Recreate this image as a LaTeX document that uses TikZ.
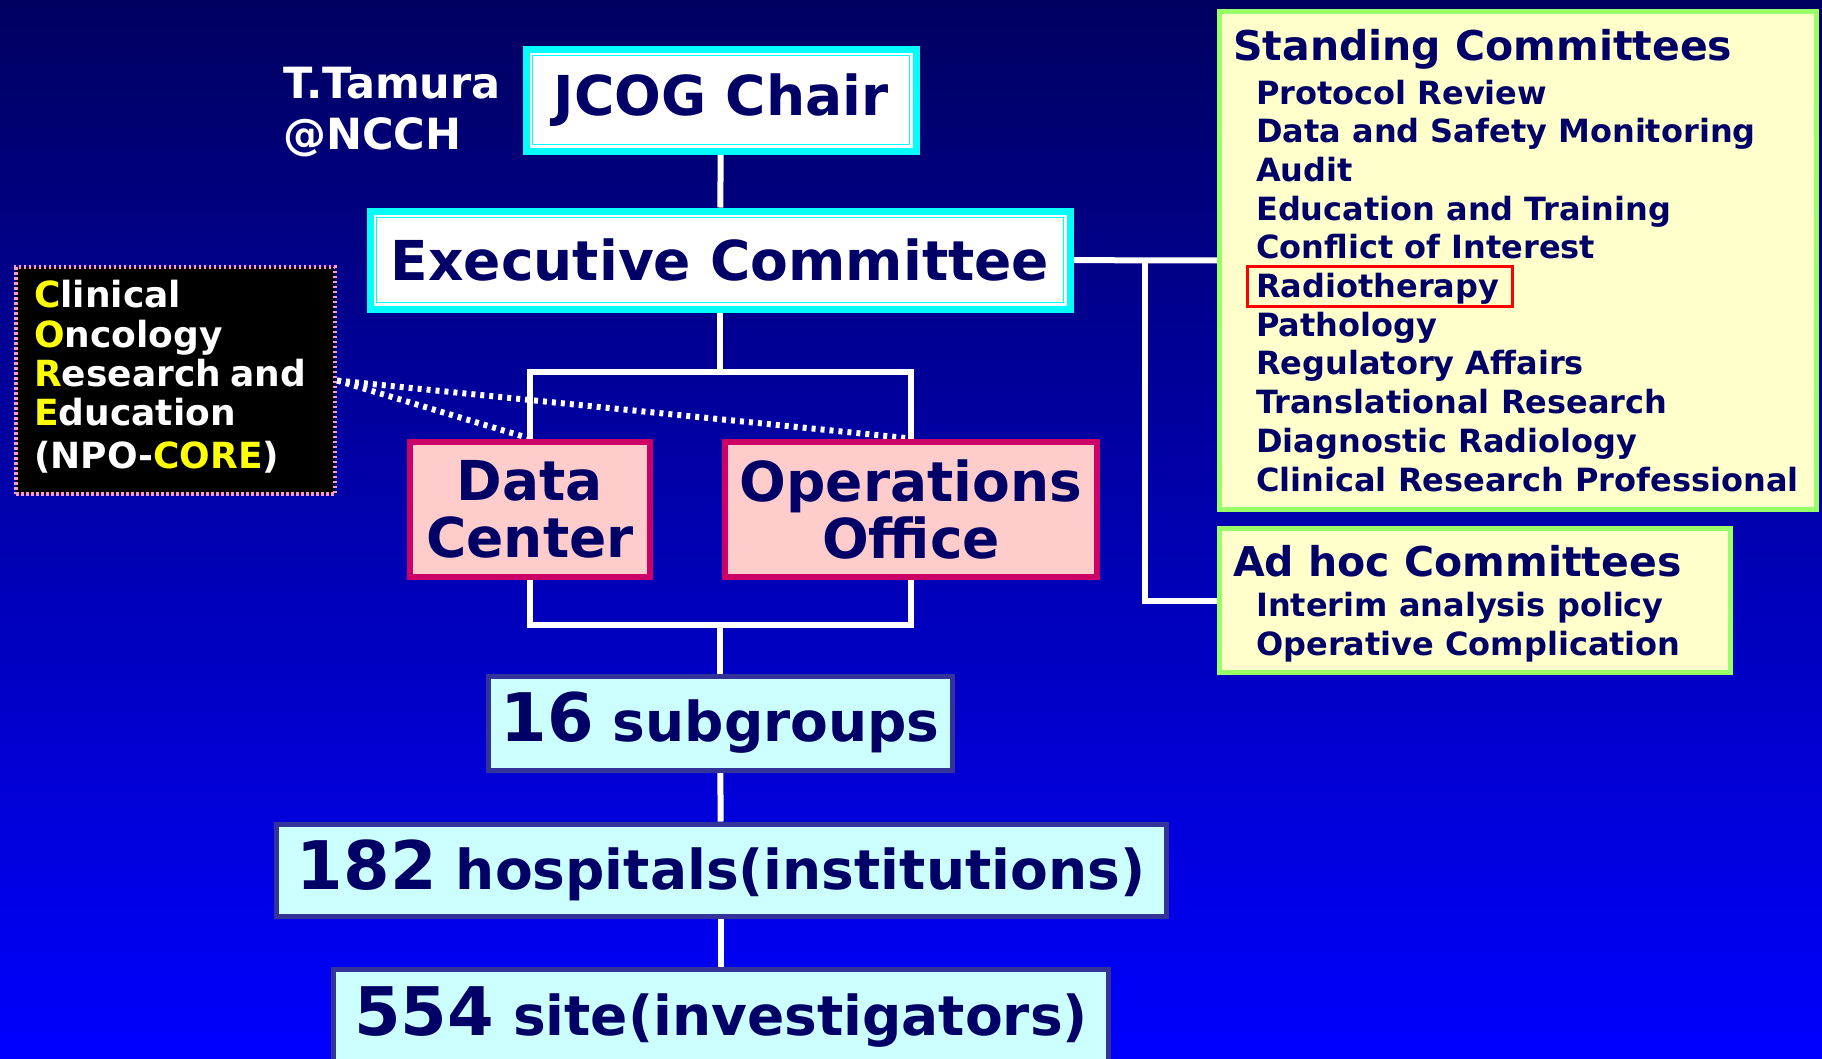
\documentclass[tikz,border=0pt]{standalone}
\usepackage{fontspec}
\setmainfont{DejaVu Sans}

\definecolor{navytext}{HTML}{000066}
\definecolor{bgtop}{HTML}{000060}
\definecolor{bgmid}{HTML}{0000C8}
\definecolor{bgbot}{HTML}{0000FF}
\definecolor{chaircyan}{HTML}{00FFFF}
\definecolor{pinkfill}{HTML}{FFCCCC}
\definecolor{pinkline}{HTML}{CC0066}
\definecolor{lightcyan}{HTML}{CCFFFF}
\definecolor{slateline}{HTML}{333399}
\definecolor{creamfill}{HTML}{FFFFCC}
\definecolor{greenline}{HTML}{99FF66}
\definecolor{dotpink}{HTML}{FF99CC}
\definecolor{coreyellow}{HTML}{FFFF00}

\newcommand\fsz[1]{\fontsize{#1}{#1}\selectfont}
\newcommand\hl[1]{\textcolor{coreyellow}{#1}}

\pgfdeclarelayer{bg}
\pgfdeclarelayer{edges}
\pgfsetlayers{bg,edges,main}

\tikzset{
  chairbox/.style={draw=chaircyan, line width=7pt, fill=white, inner sep=0pt,
    text=navytext, font=\bfseries\fsz{55},
    path picture={\draw[chaircyan, line width=1.5pt]
      ([shift={(6.5pt,-6.5pt)}]path picture bounding box.north west) rectangle
      ([shift={(-6.5pt,6.5pt)}]path picture bounding box.south east);}},
  pinkbox/.style={draw=pinkline, line width=6pt, fill=pinkfill, inner sep=0pt,
    text=navytext, align=center, font=\bfseries\fontsize{55}{57}\selectfont},
  countbox/.style={draw=slateline, line width=5pt, fill=lightcyan, inner sep=0pt,
    text=navytext, font=\bfseries},
  combox/.style={draw=greenline, line width=5pt, fill=creamfill, inner sep=0pt},
  comtitle/.style={anchor=base west, inner sep=0pt, text=navytext, font=\bfseries\fsz{41}},
  comitem/.style={anchor=base west, inner sep=0pt, text=navytext, font=\bfseries\fsz{32}},
  corebox/.style={draw=dotpink, line width=4pt, dash pattern=on 2.5pt off 2.5pt, fill=black, inner sep=0pt},
  coretext/.style={anchor=base west, inner sep=0pt, text=white, font=\bfseries\fsz{36}},
  link/.style={draw=white, line width=6pt},
  dotlink/.style={draw=white, line width=6pt, dash pattern=on 4pt off 5pt},
}

\begin{document}
\begin{tikzpicture}[x=1pt, y=-1pt]
  \useasboundingbox (0,0) rectangle (1822,1058);
  \begin{pgfonlayer}{bg}
    \shade[top color=bgtop, middle color=bgmid, bottom color=bgbot] (0,0) rectangle (1822,1058);
  \end{pgfonlayer}

  % top of the tree
  \node[anchor=base west, inner sep=0pt, text=white, font=\bfseries\fsz{43}] (tamura) at (283,98) {T.Tamura};
  \node[anchor=base west, inner sep=0pt, text=white, font=\bfseries\fsz{43}] (ncch) at (283,149) {@NCCH};
  \node[chairbox, minimum width=390pt, minimum height=102pt] (chair) at (721,100) {JCOG Chair};
  \node[chairbox, minimum width=700pt, minimum height=98pt] (exec) at (720,260) {Executive Committee};

  % offices
  \node[pinkbox, minimum width=240pt, minimum height=135pt] (dc) at (530,509) {Data\\Center};
  \node[pinkbox, minimum width=372pt, minimum height=135pt] (ops) at (911,509) {Operations\\Office};

  % NPO-CORE
  \node[corebox, minimum width=319pt, minimum height=227pt] (npo) at (175.5,380.5) {};
  \node[coretext] (core1) at (34,307) {\hl{C}linical};
  \node[coretext] (core2) at (34,347) {\hl{O}ncology};
  \node[coretext] (core3) at (34,386) {\makebox[272pt][s]{\hl{R}esearch and}};
  \node[coretext] (core4) at (34,425) {\hl{E}ducation};
  \node[coretext] (core5) at (34,468) {(NPO-\hl{CORE})};

  % groups
  \node[countbox, minimum width=464pt, minimum height=94pt] (sub) at (720,723) {{\fsz{67}16}{\fsz{55} subgroups}};
  \node[countbox, minimum width=890pt, minimum height=92pt] (hosp) at (721,870) {{\fsz{67}182}{\fsz{55} hospitals(institutions)}};
  \node[countbox, minimum width=775pt, minimum height=95pt] (site) at (721,1017) {{\fsz{67}554}{\fsz{55} site(investigators)}};

  % committees
  \node[combox, minimum width=597pt, minimum height=498pt] (std) at (1518,260.5) {};
  \node[comtitle] (stdtitle) at (1233,60) {Standing Committees};
  \foreach \t [count=\i] in {Protocol Review, Data and Safety Monitoring, Audit,
      Education and Training, Conflict of Interest, Radiotherapy, Pathology,
      Regulatory Affairs, Translational Research, Diagnostic Radiology,
      Clinical Research Professional}
    \node[comitem] (std\i) at (1256,{65.3+38.7*\i}) {\t};
  \draw[red, line width=3pt] ([shift={(-9pt,-9pt)}]std6.base west) rectangle ([shift={(13pt,31pt)}]std6.base east);

  \node[combox, minimum width=511pt, minimum height=144pt] (adhoc) at (1475,600.5) {};
  \node[comtitle] (adtitle) at (1233,576) {Ad hoc Committees};
  \node[comitem] (ad1) at (1256,616) {Interim analysis policy};
  \node[comitem] (ad2) at (1256,655) {Operative Complication};

  \coordinate (ctop) at (720,372);
  \coordinate (cbot) at (720,625);
  \coordinate (cright) at (1145,260);

  \begin{pgfonlayer}{edges}
    \draw[link] (chair) -- (exec);
    \draw[link] (exec) -- (ctop);
    \draw[link] (dc.north) |- (ctop) -| (ops.north);
    \draw[link] (dc.south) |- (cbot) -| (ops.south);
    \draw[link] (cbot) -- (sub);
    \draw[link] (sub) -- (hosp);
    \draw[link] (hosp) -- (site);
    \draw[link] (exec) -- (std);
    \draw[link] (cright) |- (adhoc.west);
    \draw[dotlink] (npo.east) -- (dc.north);
    \draw[dotlink] (npo.east) -- (ops.north);
  \end{pgfonlayer}
\end{tikzpicture}
\end{document}
